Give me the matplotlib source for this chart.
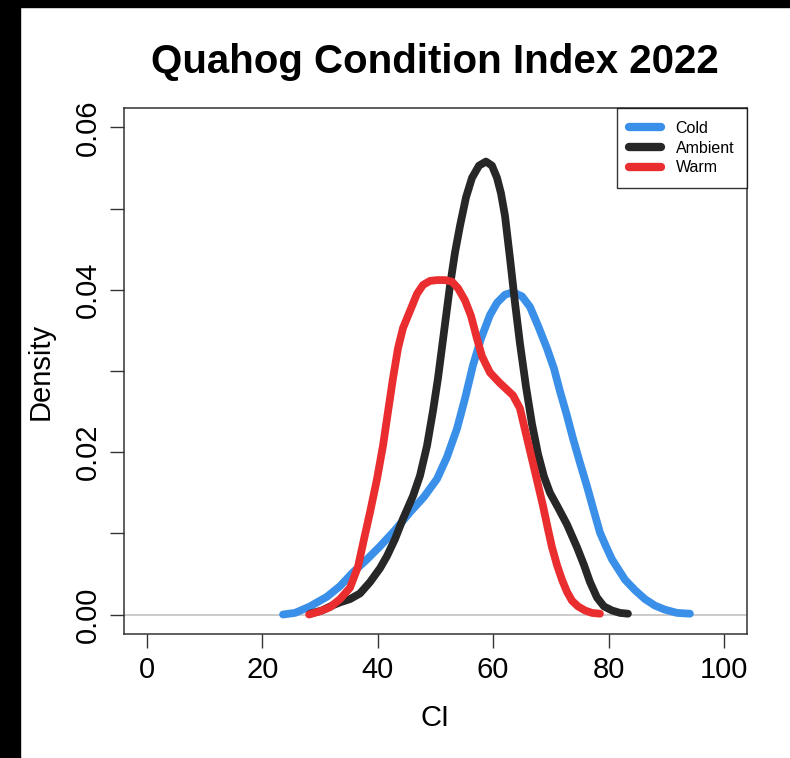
import matplotlib
matplotlib.use("Agg")
import matplotlib.pyplot as plt
from matplotlib.patches import Rectangle

plt.rcParams['font.family'] = ['Liberation Sans', 'DejaVu Sans']

# Kernel density curves of condition index (CI) by temperature treatment
cold_ci = [23.57, 25.65, 28.25, 31.20, 33.45, 35.70, 38.13, 40.38, 42.98, 45.58,
           48.01, 50.26, 51.99, 53.73, 55.11, 56.50, 57.89, 59.45, 60.66, 62.05,
           63.43, 64.99, 66.38, 67.76, 69.32, 70.54, 71.58, 72.79, 73.83, 75.04,
           76.26, 77.47, 78.51, 79.55, 80.59, 82.84, 84.58, 86.31, 88.04, 89.77,
           91.85, 94.11]
cold_den = [0.0000, 0.0002, 0.0010, 0.0022, 0.0035, 0.0052, 0.0068, 0.0084, 0.0104,
            0.0126, 0.0145, 0.0167, 0.0194, 0.0229, 0.0266, 0.0307, 0.0340, 0.0369,
            0.0384, 0.0394, 0.0397, 0.0392, 0.0379, 0.0356, 0.0328, 0.0303, 0.0275,
            0.0245, 0.0217, 0.0187, 0.0158, 0.0127, 0.0101, 0.0084, 0.0068, 0.0043,
            0.0030, 0.0019, 0.0011, 0.0006, 0.0002, 0.0001]

ambient_ci = [28.25, 30.33, 32.06, 33.45, 35.18, 36.92, 38.65, 40.38, 41.59, 42.98,
              44.37, 46.10, 47.31, 48.53, 49.57, 50.43, 51.47, 52.51, 53.38, 54.25,
              55.29, 56.33, 57.54, 58.75, 59.79, 60.66, 61.35, 62.05, 62.91, 63.78,
              64.64, 65.68, 66.72, 67.76, 68.80, 69.84, 71.23, 72.79, 74.52, 75.74,
              76.78, 77.99, 79.20, 80.59, 81.98, 83.36]
ambient_den = [0.0001, 0.0005, 0.0011, 0.0015, 0.0019, 0.0026, 0.0040, 0.0057, 0.0072,
               0.0093, 0.0118, 0.0146, 0.0171, 0.0208, 0.0251, 0.0291, 0.0348, 0.0405,
               0.0446, 0.0479, 0.0514, 0.0538, 0.0553, 0.0558, 0.0553, 0.0538, 0.0519,
               0.0491, 0.0439, 0.0384, 0.0334, 0.0281, 0.0235, 0.0198, 0.0170, 0.0150,
               0.0132, 0.0111, 0.0083, 0.0061, 0.0040, 0.0021, 0.0010, 0.0005, 0.0002,
               0.0001]

warm_ci = [28.08, 29.98, 31.72, 33.45, 35.18, 36.57, 37.61, 38.65, 39.86, 40.90,
           41.77, 42.63, 43.50, 44.37, 45.58, 46.79, 47.83, 49.05, 50.26, 51.65,
           52.86, 53.90, 55.11, 56.15, 57.19, 58.06, 59.45, 61.18, 62.39, 63.43,
           64.64, 65.87, 67.24, 68.63, 69.50, 70.19, 71.06, 71.92, 72.79, 73.66,
           74.70, 75.91, 77.12, 78.51]
warm_den = [0.0000, 0.0004, 0.0009, 0.0019, 0.0033, 0.0059, 0.0093, 0.0126, 0.0167,
            0.0208, 0.0250, 0.0291, 0.0328, 0.0353, 0.0374, 0.0395, 0.0406, 0.0411,
            0.0412, 0.0412, 0.0410, 0.0402, 0.0387, 0.0368, 0.0340, 0.0318, 0.0298,
            0.0285, 0.0277, 0.0270, 0.0254, 0.0217, 0.0176, 0.0134, 0.0105, 0.0083,
            0.0061, 0.0043, 0.0028, 0.0017, 0.0010, 0.0005, 0.0002, 0.0001]

x_ticks = [0, 20, 40, 60, 80, 100]
y_ticks = [0.00, 0.01, 0.02, 0.03, 0.04, 0.05, 0.06]
y_labels = ["0.00", "", "0.02", "", "0.04", "", "0.06"]

colors = {"Cold": "#3a90e8", "Ambient": "#272727", "Warm": "#ea2d2f"}

fig = plt.figure(figsize=(7.9, 7.58), dpi=100)
ax = fig.add_axes([124 / 790, 1 - 634 / 758, (747 - 124) / 790, (634 - 108) / 758])

ax.axhline(0, color="#bdbdbd", lw=1.1, zorder=1)

lw = 5.6
style = dict(lw=lw, solid_capstyle="round", solid_joinstyle="round")
ax.plot(cold_ci, cold_den, color=colors["Cold"], label="Cold", zorder=2, **style)
ax.plot(ambient_ci, ambient_den, color=colors["Ambient"], label="Ambient", zorder=3, **style)
ax.plot(warm_ci, warm_den, color=colors["Warm"], label="Warm", zorder=4, **style)

ax.set_xlim(-4, 104)
ax.set_ylim(-0.0024, 0.0624)
ax.set_xticks(x_ticks)
ax.set_xticklabels([str(v) for v in x_ticks])
ax.set_yticks(y_ticks)
ax.set_yticklabels(y_labels, rotation=90, va="center")

ax.tick_params(axis="both", length=10, width=1.0, color="#333333", labelsize=21,
               direction="out", pad=6)
for side in ["top", "right", "bottom", "left"]:
    ax.spines[side].set_linewidth(1.1)
    ax.spines[side].set_color("#333333")

ax.set_xlabel("CI", fontsize=21, labelpad=14)
ax.set_ylabel("Density", fontsize=21, labelpad=14)

fig.text(435 / 790, 1 - 62 / 758, "Quahog Condition Index 2022", fontsize=29,
         fontweight="bold", ha="center", va="center")

leg = ax.legend(loc="upper right", bbox_to_anchor=(1.0, 1.0), borderaxespad=0,
                fontsize=11.5, frameon=True, fancybox=False, handlelength=2.0,
                handletextpad=0.9, labelspacing=0.3, borderpad=0.8)
leg.get_frame().set_edgecolor("black")
leg.get_frame().set_linewidth(1.0)
for line in leg.get_lines():
    line.set_linewidth(6)
    line.set_solid_capstyle("round")

# dark strips along the left and top edges of the canvas
fig.patches.append(Rectangle((0, 0), 20 / 790, 1, transform=fig.transFigure,
                             color="black", zorder=10))
fig.patches.append(Rectangle((0, 1 - 7 / 758), 1, 7 / 758, transform=fig.transFigure,
                             color="black", zorder=10))

fig.savefig("out.png", dpi=100)
